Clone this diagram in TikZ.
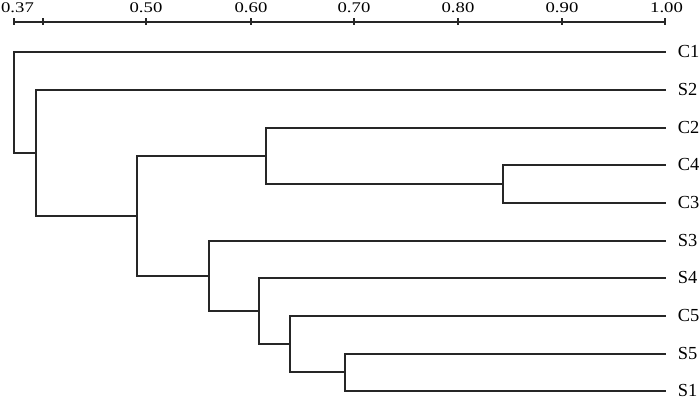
\documentclass[tikz,border=0pt]{standalone}
\usepackage{fontspec}
\setmainfont{Liberation Serif}
\begin{document}
\begin{tikzpicture}[x=1pt,y=-1pt,
  branch/.style={line width=1.8pt,color=black!85,line cap=rect},
  axisline/.style={line width=1.8pt,color=black!85},
  leaflab/.style={anchor=base west,inner sep=0pt,font=\fontsize{18.4}{20}\selectfont},
  ticklab/.style={anchor=base,inner sep=0pt}]
\useasboundingbox (0,0) rectangle (700,398);
% axis
\foreach \nm/\xx in {a37/14,a40/43,a50/146,a60/251,a70/354,a80/458,a90/562,a100/665}{
  \coordinate (\nm) at (\xx,22);
  \draw[axisline] (\xx,18.5) -- (\xx,25.5);
}
\draw[axisline] (a37) -- (a100);
\foreach \xx/\lab in {17.5/0.37,146/0.50,251/0.60,354/0.70,458/0.80,562/0.90,666.5/1.00}{
  \node[ticklab] at (\xx,12.7) {\scalebox{1}[0.79]{\fontsize{18.7}{20}\selectfont \lab}};
}
% leaves: line ends and labels
\foreach \nm/\yy in {C1/52,S2/90,C2/128,C4/165,C3/203,S3/241,S4/278,C5/316,S5/354,S1/391}{
  \coordinate (t\nm) at (665,\yy);
  \node[leaflab] (\nm) at (677.7,\yy+5.4) {\nm};
}
% internal nodes
\coordinate (nC4C3) at (503,184);
\coordinate (nC2) at (266,156);
\coordinate (nS5S1) at (345,372);
\coordinate (nC5) at (290,344);
\coordinate (nS4) at (259,311);
\coordinate (nS3) at (209,276);
\coordinate (nMain) at (137,216);
\coordinate (nS2) at (36,153);
\coordinate (root) at (14,52);
% branches
\draw[branch] (nC4C3) |- (tC4);
\draw[branch] (nC4C3) |- (tC3);
\draw[branch] (nC2) |- (tC2);
\draw[branch] (nC2) |- (nC4C3);
\draw[branch] (nS5S1) |- (tS5);
\draw[branch] (nS5S1) |- (tS1);
\draw[branch] (nC5) |- (tC5);
\draw[branch] (nC5) |- (nS5S1);
\draw[branch] (nS4) |- (tS4);
\draw[branch] (nS4) |- (nC5);
\draw[branch] (nS3) |- (tS3);
\draw[branch] (nS3) |- (nS4);
\draw[branch] (nMain) |- (nC2);
\draw[branch] (nMain) |- (nS3);
\draw[branch] (nS2) |- (tS2);
\draw[branch] (nS2) |- (nMain);
\draw[branch] (root) -- (tC1);
\draw[branch] (root) |- (nS2);
\end{tikzpicture}
\end{document}
